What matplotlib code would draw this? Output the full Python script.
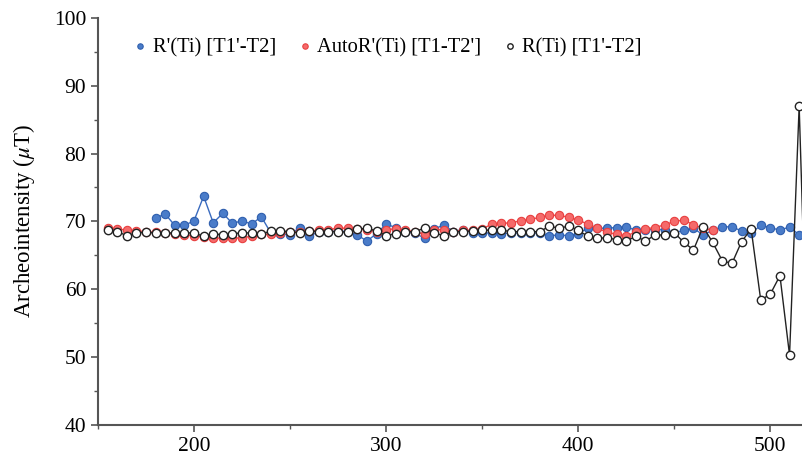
import numpy as np
import matplotlib
matplotlib.use("Agg")
import matplotlib.pyplot as plt
from matplotlib.ticker import MultipleLocator

plt.rcParams["font.family"] = ["Liberation Serif", "DejaVu Serif"]
plt.rcParams["mathtext.fontset"] = "stix"

# R'(Ti) [T1'-T2]
x_blue = list(range(180, 520, 5))
y_blue = [70.5, 71.1, 69.4, 69.4, 70.1, 73.7, 69.8, 71.2, 69.7, 70.1,
          69.6, 70.7, 68.3, 68.2, 68.0, 69.1, 67.8, 68.5, 68.5, 68.6,
          68.5, 68.0, 67.1, 68.2, 69.6, 69.1, 68.5, 68.3, 67.5, 68.85,
          69.5, 68.5, 68.8, 68.3, 68.3, 68.3, 68.2, 68.3, 68.3, 68.3,
          68.3, 67.9, 68.0, 67.9, 68.2, 69.0, 69.0, 69.0, 69.1, 69.2,
          68.7, 68.8, 68.8, 68.8, 68.3, 68.7, 69.0, 68.0, 68.7, 69.2,
          69.2, 68.6, 68.3, 69.4, 69.1, 68.7, 69.2, 68.0]

# AutoR'(Ti) [T1-T2']
x_red = list(range(155, 475, 5))
y_red = [69.0, 68.9, 68.7, 68.6, 68.5, 68.4, 68.3, 68.1, 68.0, 67.9,
         67.7, 67.6, 67.5, 67.5, 67.6, 67.8, 68.1, 68.1, 68.3, 68.4,
         68.5, 68.6, 68.7, 68.8, 69.0, 69.0, 68.9, 68.8, 68.5, 68.8,
         68.9, 68.7, 68.5, 68.1, 68.8, 68.8, 68.5, 68.7, 68.7, 68.9,
         69.6, 69.7, 69.8, 70.1, 70.3, 70.6, 70.9, 70.9, 70.6, 70.2,
         69.6, 69.0, 68.4, 68.1, 67.9, 68.4, 68.9, 69.1, 69.5, 70.0,
         70.2, 69.5, 69.0, 68.7]

# R(Ti) [T1'-T2]
x_black = list(range(155, 525, 5))
y_black = [68.7, 68.5, 67.9, 68.3, 68.4, 68.3, 68.3, 68.3, 68.3, 68.3,
           67.8, 68.2, 68.0, 68.2, 68.3, 68.3, 68.1, 68.6, 68.6, 68.5,
           68.3, 68.6, 68.5, 68.5, 68.5, 68.4, 68.85, 69.0, 68.6, 67.9,
           68.2, 68.5, 68.5, 69.0, 68.3, 67.9, 68.5, 68.5, 68.6, 68.7,
           68.7, 68.7, 68.5, 68.5, 68.5, 68.5, 69.3, 69.0, 69.3, 68.7,
           67.8, 67.5, 67.6, 67.3, 67.1, 67.8, 67.1, 68.0, 68.0, 68.35,
           66.9, 65.8, 69.2, 66.9, 64.2, 63.8, 67.0, 68.9, 58.4, 59.3,
           62.0, 50.3, 87.0, 41.0]

fig = plt.figure(figsize=(8.03, 4.57), dpi=100)
ax = fig.add_axes([0.122, 0.07, 0.878, 0.891])

ms = 6
ax.plot(x_blue, y_blue, "-o", color="#3a6bbf", lw=1.0, ms=ms,
        mfc="#4a7cc9", mec="#2f5fae", mew=0.8, label="R'(Ti) [T1'-T2]", zorder=2)
ax.plot(x_red, y_red, "-o", color="#f04848", lw=1.0, ms=ms,
        mfc="#f56a6a", mec="#e84040", mew=0.8, label="AutoR'(Ti) [T1-T2']", zorder=3)
ax.plot(x_black, y_black, "-o", color="#222222", lw=1.0, ms=ms,
        mfc="white", mec="#222222", mew=1.0, label="R(Ti) [T1'-T2]", zorder=4)

ax.set_xlim(150, 517)
ax.set_ylim(40, 100)
ax.xaxis.set_major_locator(MultipleLocator(100))
ax.xaxis.set_minor_locator(MultipleLocator(50))
ax.yaxis.set_major_locator(MultipleLocator(10))
ax.yaxis.set_minor_locator(MultipleLocator(5))

for side in ["top", "right"]:
    ax.spines[side].set_visible(False)
for side in ["left", "bottom"]:
    ax.spines[side].set_color("#555555")
    ax.spines[side].set_linewidth(1.5)

ax.tick_params(which="both", direction="out", colors="#555555",
               labelcolor="black", labelsize=15.5)
ax.tick_params(which="major", length=5, width=1.2)
ax.tick_params(which="minor", length=3, width=1.0)

ax.set_ylabel("Archeointensity ($\\mu$T)", fontsize=16.5, labelpad=12)

leg = ax.legend(loc="upper left", bbox_to_anchor=(0.025, 0.995), ncol=3,
                frameon=False, fontsize=14.8, markerscale=0.65,
                handlelength=0.6, handletextpad=0.3, columnspacing=1.1)
for line in leg.get_lines():
    line.set_linestyle("none")

fig.savefig("out.png", dpi=100)
